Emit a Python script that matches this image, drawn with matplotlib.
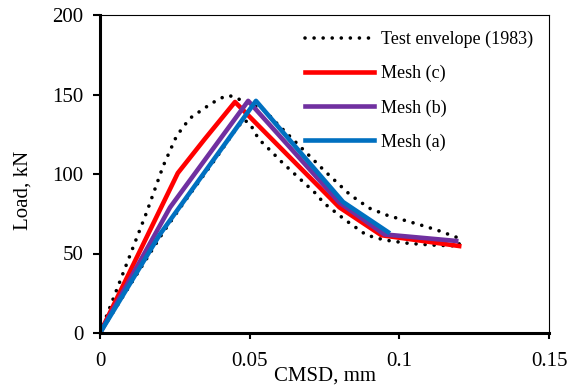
import numpy as np
import matplotlib.pyplot as plt

# test envelope (1983): upper branch then lower branch back to origin
env_x = [0, 0.0084, 0.0156, 0.0211, 0.0256, 0.030, 0.0373, 0.0418, 0.0444, 0.047,
         0.055, 0.0575, 0.059, 0.075, 0.0835, 0.090, 0.096, 0.107, 0.1125, 0.120,
         0.120, 0.111, 0.103, 0.095, 0.089, 0.082, 0.0746, 0.0725, 0.061, 0.0568,
         0.053, 0.050, 0.048, 0.045, 0.0384, 0.033, 0.028, 0.021, 0]
env_y = [0, 41, 76, 105, 124, 135, 144.5, 149, 149, 146.5,
         140, 135, 132, 102, 87, 78.5, 74, 68, 64.8, 59.6,
         54.7, 55.3, 56.4, 58.5, 61.6, 71, 82, 87, 107, 115,
         122, 132, 134, 127, 109, 95, 82, 63, 0]

mesh_c_x = [0, 0.026, 0.035, 0.0451, 0.080, 0.094, 0.120]
mesh_c_y = [0, 100.6, 122, 145.3, 79, 61.5, 54.7]

mesh_b_x = [0, 0.0234, 0.0495, 0.080, 0.095, 0.119]
mesh_b_y = [0, 79, 146, 82, 62, 57.9]

mesh_a_x = [0, 0.020, 0.0521, 0.0812, 0.0962]
mesh_a_y = [0, 62, 146, 82.4, 63.5]

x_ticks = [0, 0.05, 0.1, 0.15]
x_labels = ['0', '0.05', '0.1', '0.15']
y_ticks = [0, 50, 100, 150, 200]

plt.rcParams['font.family'] = ['Liberation Serif', 'DejaVu Serif']

fig = plt.figure(figsize=(5.79, 3.92), dpi=100)
ax = fig.add_axes([100/579, 1-333/392, 449/579, 318/392])

ax.plot(env_x, env_y, color='black', lw=2.6, linestyle=(0, (0.01, 2.5)),
        dash_capstyle='round', label='Test envelope (1983)')
ax.plot(mesh_c_x, mesh_c_y, color='#FF0000', lw=3.3, label='Mesh (c)')
ax.plot(mesh_b_x, mesh_b_y, color='#7030A0', lw=3.3, label='Mesh (b)')
ax.plot(mesh_a_x, mesh_a_y, color='#0070C0', lw=3.3, label='Mesh (a)')

ax.set_xlim(0, 0.15)
ax.set_ylim(0, 200)
ax.set_xticks(x_ticks)
ax.set_xticklabels(x_labels)
ax.set_yticks(y_ticks)
ax.tick_params(axis='both', labelsize=15, direction='out', width=1.5)
ax.tick_params(axis='y', length=5, pad=7)
ax.tick_params(axis='x', length=4.5, pad=9)

for s in ['left', 'bottom']:
    ax.spines[s].set_linewidth(2.2)
for s in ['top', 'right']:
    ax.spines[s].set_linewidth(0.8)

ax.set_xlabel('CMSD, mm', fontsize=15)
ax.xaxis.set_label_coords(0.5, -0.105)
ax.set_ylabel('Load, kN', fontsize=15)
ax.yaxis.set_label_coords(-0.151, 0.45)

fig.legend(loc='upper left', bbox_to_anchor=(305/579, 1-31/392), frameon=False,
           fontsize=13, borderpad=0, handlelength=3.8, handletextpad=0.4,
           labelspacing=0.93, borderaxespad=0)

fig.savefig('out.png', dpi=100)
